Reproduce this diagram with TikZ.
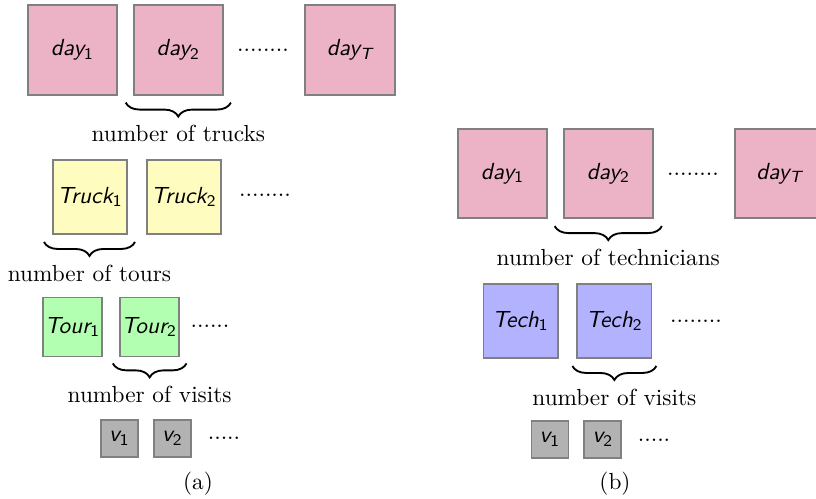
\documentclass[tikz,border=0pt]{standalone}
\usetikzlibrary{positioning, decorations.pathreplacing}
\newcommand{\boxsub}[1]{\textsubscript{\upshape #1}}

\begin{document}
\begin{tikzpicture}[x=0.0151cm, y=-0.0151cm]
        \tikzstyle{dayblob} = [rectangle, minimum width = 1.35cm, minimum height = 1.35cm, inner sep=0pt, draw=gray, line width=0.8pt, fill=purple!30, font=\sffamily\itshape]
        \tikzstyle{truckblob} = [dayblob, minimum width = 1.12cm, minimum height = 1.12cm, fill=yellow!25]
        \tikzstyle{tourblob} = [dayblob, minimum width = 0.89cm, minimum height = 0.89cm, fill=green!30]
        \tikzstyle{techblob} = [dayblob, minimum width = 1.12cm, minimum height = 1.12cm, fill=blue!30]
        \tikzstyle{visitblob} = [dayblob, minimum width = 0.56cm, minimum height = 0.56cm, fill=gray!60]
        \tikzstyle{bracket} = [decorate, decoration={brace, mirror, amplitude=6pt}, thick]
        
        \useasboundingbox (0,0) rectangle (816,499);
        
        % (a) trucks and tours
        \node (day1) [dayblob] at (72.5,50) {day\boxsub{1}};
        \node (day2) [dayblob, right=0.22cm of day1] {day\boxsub{2}};
        \node (daydots) at (263,50) {........};
        \node (dayT) [dayblob] at (350,50) {day\boxsub{\itshape T}};
        \draw[bracket] ([shift={(-7,7)}]day2.south west) -- ([shift={(7,7)}]day2.south east)
            node (trucks) [midway, below=6pt] {number of trucks};
        
        \node (truck1) [truckblob] at (90,197) {Truck\boxsub{1}};
        \node (truck2) [truckblob, right=0.27cm of truck1] {Truck\boxsub{2}};
        \node (truckdots) at (265,195) {........};
        \draw[bracket] ([shift={(-8,7)}]truck1.south west) -- ([shift={(7,7)}]truck1.south east)
            node (tours) [midway, below=6pt] {number of tours};
        
        \node (tour1) [tourblob] at (72.5,327) {Tour\boxsub{1}};
        \node (tour2) [tourblob, right=0.24cm of tour1] {Tour\boxsub{2}};
        \node (tourdots) at (210,326) {......};
        \draw[bracket] ([shift={(-6,6)}]tour2.south west) -- ([shift={(7,6)}]tour2.south east)
            node (visitsA) [midway, below=6pt] {number of visits};
        
        \node (va1) [visitblob] at (119.5,438.5) {v\boxsub{1}};
        \node (va2) [visitblob, right=0.21cm of va1] {v\boxsub{2}};
        \node (vadots) at (224,438) {.....};
        \node (capA) at (198,484) {(a)};
        
        % (b) technicians
        \node (bday1) [dayblob] at (502.5,173.5) {day\boxsub{1}};
        \node (bday2) [dayblob, right=0.22cm of bday1] {day\boxsub{2}};
        \node (bdaydots) at (693,174) {........};
        \node (bdayT) [dayblob] at (779.5,173.5) {day\boxsub{\itshape T}};
        \draw[bracket] ([shift={(-8,7)}]bday2.south west) -- ([shift={(8,7)}]bday2.south east)
            node (techs) [midway, below=6pt] {number of technicians};
        
        \node (tech1) [techblob] at (520.5,321) {Tech\boxsub{1}};
        \node (tech2) [techblob, right=0.27cm of tech1] {Tech\boxsub{2}};
        \node (techdots) at (696,321) {........};
        \draw[bracket] ([shift={(-4,7)}]tech2.south west) -- ([shift={(4,7)}]tech2.south east)
            node (visitsB) [midway, below=6pt] {number of visits};
        
        \node (vb1) [visitblob] at (550,439.5) {v\boxsub{1}};
        \node (vb2) [visitblob, right=0.21cm of vb1] {v\boxsub{2}};
        \node (vbdots) at (654,440) {.....};
        \node (capB) at (615,484) {(b)};
        
    \end{tikzpicture}
\end{document}
